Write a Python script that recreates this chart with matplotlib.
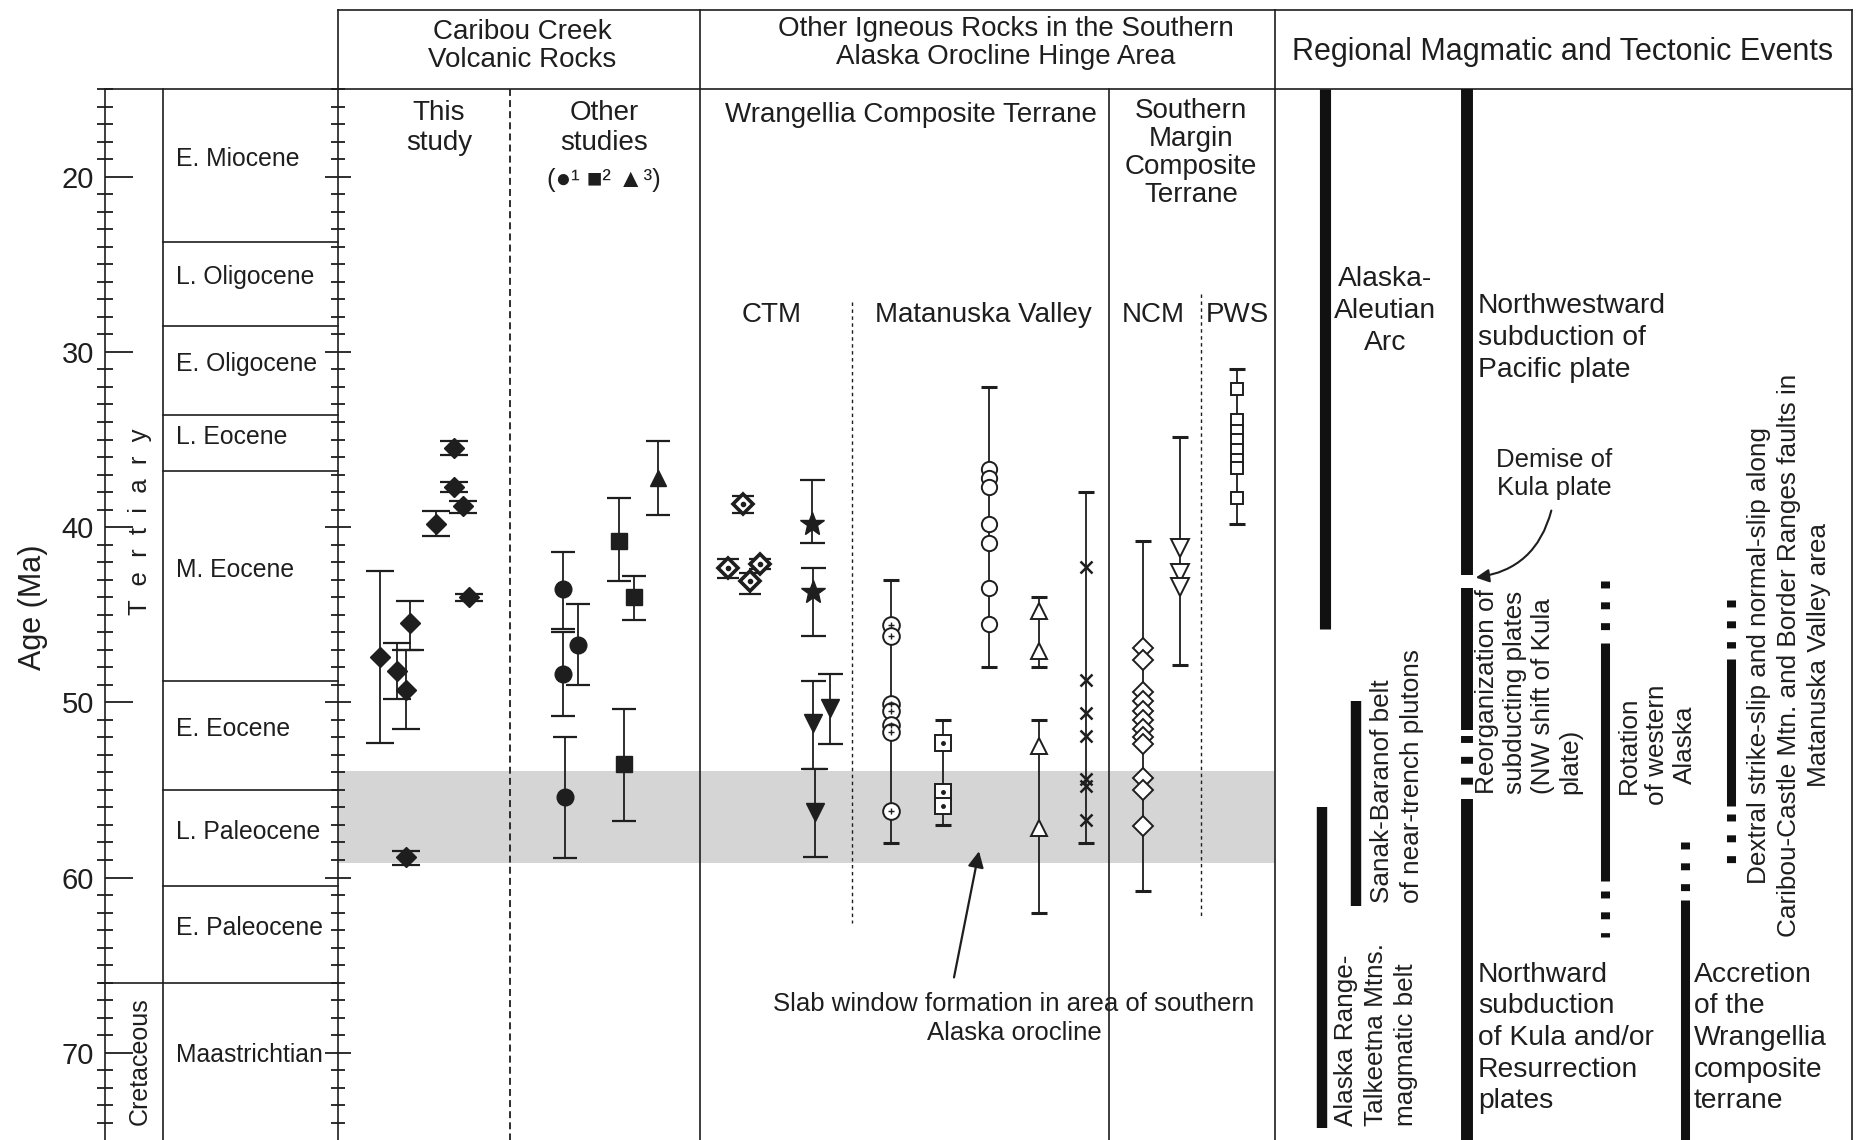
import matplotlib
matplotlib.use("Agg")
import matplotlib.pyplot as plt
from matplotlib.ticker import MultipleLocator

plt.rcParams["font.family"] = ["Liberation Sans", "DejaVu Sans"]
plt.rcParams["lines.scale_dashes"] = False

INK = "#1e1e1e"

# --- time scale (Ma) ---
epoch_names = ["E. Miocene", "L. Oligocene", "E. Oligocene", "L. Eocene", "M. Eocene",
               "E. Eocene", "L. Paleocene", "E. Paleocene", "Maastrichtian"]
epoch_bounds = [15.0, 23.7, 28.5, 33.6, 36.8, 48.8, 55.0, 60.5, 66.0, 75.0]
age_top, age_bottom = 15.0, 75.0
slab_window = (53.9, 59.15)

# --- Caribou Creek, this study (filled diamonds) ---
ts_slot = [454, 454, 463, 436, 469, 380, 410, 406, 397, 406]
ts_age = [35.5, 37.7, 38.8, 39.8, 44.0, 47.4, 45.5, 49.3, 48.2, 58.85]
ts_lo = [35.1, 37.4, 38.5, 39.1, 43.8, 42.5, 44.2, 47.0, 46.6, 58.5]
ts_hi = [35.9, 38.0, 39.2, 40.5, 44.2, 52.3, 47.0, 51.5, 49.8, 59.3]

# --- Caribou Creek, other studies ---
os_circle_slot = [563, 578, 563, 565]
os_circle_age = [43.55, 46.7, 48.4, 55.4]
os_circle_lo = [41.4, 44.4, 46.0, 52.0]
os_circle_hi = [45.8, 49.0, 50.8, 58.9]
os_square_slot = [619, 634, 624]
os_square_age = [40.8, 44.0, 53.5]
os_square_lo = [38.35, 42.8, 50.4]
os_square_hi = [43.1, 45.3, 56.75]
os_tri_slot = [658]
os_tri_age = [37.2]
os_tri_lo = [35.1]
os_tri_hi = [39.3]

# --- CTM ---
ctm_dia_slot = [743, 728, 760, 750]
ctm_dia_age = [38.7, 42.35, 42.1, 43.1]
ctm_dia_lo = [38.2, 41.8, 41.8, 42.6]
ctm_dia_hi = [39.2, 42.9, 42.4, 43.8]
ctm_star_slot = [812, 813]
ctm_star_age = [39.8, 43.7]
ctm_star_lo = [37.3, 42.35]
ctm_star_hi = [40.9, 46.2]
ctm_tri_slot = [813, 830, 815]
ctm_tri_age = [51.2, 50.3, 56.25]
ctm_tri_lo = [48.8, 48.4, 53.8]
ctm_tri_hi = [53.8, 52.4, 58.8]

# --- Matanuska Valley suites: (age range, individual ages) ---
mv_a_range = (43.0, 58.05)
mv_a_ages = [45.6, 46.2, 50.1, 50.5, 51.3, 51.7, 56.2]
mv_b_range = (51.0, 57.0)
mv_b_ages = [52.3, 55.1, 55.9]
mv_c_range = (32.0, 48.0)
mv_c_ages = [36.7, 37.2, 37.7, 39.85, 40.9, 43.5, 45.55]
mv_d_range = (44.0, 48.0)
mv_d_ages = [44.8, 47.05]
mv_e_range = (51.0, 62.0)
mv_e_ages = [52.5, 57.2]
mv_f_range = (38.0, 58.05)
mv_f_ages = [42.3, 48.7, 50.6, 51.9, 54.4, 54.8, 56.7]

# --- Southern Margin terrane ---
ncm_dia_range = (40.8, 60.75)
ncm_dia_ages = [46.9, 47.6, 49.4, 49.9, 50.5, 51.0, 51.55, 52.0, 52.4, 54.3, 55.0, 57.05]
ncm_tri_range = (34.85, 47.85)
ncm_tri_ages = [41.2, 42.6, 43.4]
pws_range = (31.0, 39.85)
pws_ages = [32.1, 33.9, 34.5, 35.0, 35.6, 36.15, 36.65, 38.35]

# --- regional events: (start, end, solid?) ---
ev_arc = [(15.0, 45.8, True)]
ev_artm = [(56.0, 74.3, True)]
ev_sanak = [(49.9, 61.6, True)]
ev_subduction = [(15.0, 42.73, True), (43.5, 51.6, True), (51.9, 54.9, False), (55.5, 75.0, True)]
ev_rotation = [(43.1, 45.9, False), (46.6, 60.2, True), (60.75, 63.4, False)]
ev_accretion = [(57.95, 60.9, False), (61.3, 75.0, True)]
ev_dextral = [(44.15, 46.9, False), (47.5, 55.9, True), (56.4, 59.2, False)]


def err_points(ax, slots, ages, lo, hi, marker, ms, cap, **kw):
    lower = [a - l for a, l in zip(ages, lo)]
    upper = [h - a for a, h in zip(ages, hi)]
    ax.errorbar(slots, ages, yerr=[lower, upper], fmt="none", ecolor=INK,
                elinewidth=1.3, capsize=cap, capthick=1.6, zorder=3)
    ax.plot(slots, ages, linestyle="none", marker=marker, ms=ms, zorder=4, **kw)


def suite(ax, slot, rng, ages, marker, ms, cap=6, inner=None, **kw):
    lo, hi = rng
    ax.errorbar([slot], [(lo + hi) / 2], yerr=[(hi - lo) / 2], fmt="none",
                ecolor=INK, elinewidth=1.3, capsize=cap, capthick=2.2, zorder=3)
    ax.plot([slot] * len(ages), ages, linestyle="none", marker=marker, ms=ms,
            zorder=4, **kw)
    if inner is not None:
        ax.plot([slot] * len(ages), ages, linestyle="none", marker=inner[0],
                ms=inner[1], color=INK, mew=1.0, zorder=5)


def event_bar(ax, slot, segments, lw):
    for start, end, solid in segments:
        if solid:
            ax.plot([slot, slot], [start, end], color="#111111", lw=lw,
                    solid_capstyle="butt", zorder=3)
        else:
            ax.plot([slot, slot], [start, end], color="#111111", lw=lw,
                    dashes=(5, 10), dash_capstyle="butt", zorder=3)


def main():
    fig = plt.figure(figsize=(18.6, 11.4), dpi=100)
    ax = fig.add_axes([0, 0, 1, 1])
    ax.set_xlim(0, 1860)
    ax.set_ylim(74.98, 9.914)
    ax.axis("off")

    # age scale with ticks on both sides of the time-scale columns
    sc = fig.add_axes([105 / 1860, 0, (338 - 105) / 1860, (1140 - 89) / 1140])
    sc.set_ylim(74.98, 14.994)
    sc.patch.set_alpha(0)
    sc.set_xticks([])
    for s in sc.spines.values():
        s.set_visible(False)
    sc.yaxis.set_major_locator(MultipleLocator(10))
    sc.yaxis.set_minor_locator(MultipleLocator(1))
    sc.tick_params(axis="y", which="major", direction="in", length=20, width=1.3,
                   color=INK, labelsize=21, labelcolor=INK, pad=8)
    sc.tick_params(axis="y", which="minor", direction="inout", length=12, width=1.3,
                   color=INK)
    sc.set_yticks([20, 30, 40, 50, 60, 70])
    tw = sc.twinx()
    tw.set_ylim(74.98, 14.994)
    tw.patch.set_alpha(0)
    for s in tw.spines.values():
        s.set_visible(False)
    tw.yaxis.set_major_locator(MultipleLocator(10))
    tw.yaxis.set_minor_locator(MultipleLocator(1))
    tw.tick_params(axis="y", which="major", direction="inout", length=19, width=1.3,
                   color=INK, labelright=False)
    tw.tick_params(axis="y", which="minor", direction="inout", length=9.5, width=1.3,
                   color=INK)

    frame = dict(color=INK, lw=1.2, zorder=2)
    # outer frame and column rules
    ax.plot([105, 1852], [age_top, age_top], **frame)
    ax.plot([338, 1852], [10.49, 10.49], **frame)
    ax.plot([105, 105], [age_top, age_bottom], **frame)
    ax.plot([163, 163], [age_top, age_bottom], **frame)
    for xv in [338, 700, 1275, 1852]:
        ax.plot([xv, xv], [10.49, age_bottom], **frame)
    ax.plot([1109, 1109], [age_top, age_bottom], **frame)
    ax.plot([510, 510], [age_top, age_bottom], color=INK, lw=1.3, dashes=(5, 3), zorder=2)
    ax.plot([852, 852], [27.15, 62.6], color=INK, lw=1.0, dashes=(2.5, 2.5), zorder=2)
    ax.plot([1201, 1201], [26.7, 62.2], color=INK, lw=1.0, dashes=(2.5, 2.5), zorder=2)

    # epochs
    for b in epoch_bounds[1:-1]:
        x0 = 100 if b == 66.0 else 163
        ax.plot([x0, 338], [b, b], **frame)
    for name, top, bot in zip(epoch_names, epoch_bounds[:-1], epoch_bounds[1:]):
        ax.text(176, (top + bot) / 2 - 0.35, name, fontsize=17.8, color=INK,
                ha="left", va="center")
    ax.text(33, 44.56, "Age (Ma)", rotation=90, fontsize=22, color=INK,
            ha="center", va="center")
    ax.text(140, 39.7, "T  e  r  t  i  a  r  y", rotation=90, fontsize=18.5, color=INK,
            ha="center", va="center")
    ax.text(140, 70.5, "Cretaceous", rotation=90, fontsize=18, color=INK,
            ha="center", va="center")

    # slab window band
    ax.fill_between([338, 1275], slab_window[0], slab_window[1], color="#d5d5d5",
                    lw=0, zorder=1)

    # headers
    hd = dict(color=INK, ha="center", va="center", linespacing=1.1)
    ax.text(522, 12.54, "Caribou Creek\nVolcanic Rocks", fontsize=20, **hd)
    ax.text(1006, 12.37, "Other Igneous Rocks in the Southern\nAlaska Orocline Hinge Area",
            fontsize=20, **hd)
    ax.text(1563, 12.88, "Regional Magmatic and Tectonic Events", fontsize=22, **hd)
    sub = dict(hd, linespacing=1.2)
    ax.text(439, 17.2, "This\nstudy", fontsize=20, **sub)
    ax.text(604, 17.2, "Other\nstudies", fontsize=20, **sub)
    ax.text(604, 20.2, "(\u25cf\u00b9 \u25a0\u00b2 \u25b2\u00b3)", fontsize=18.5, **hd)
    ax.text(911, 16.48, "Wrangellia Composite Terrane", fontsize=20, **hd)
    ax.text(1191, 18.65, "Southern\nMargin\nComposite\nTerrane", fontsize=20, **hd)
    for label, xv in [("CTM", 772), ("Matanuska Valley", 983), ("NCM", 1153), ("PWS", 1237)]:
        ax.text(xv, 27.9, label, fontsize=20, **hd)

    # Caribou Creek samples
    err_points(ax, ts_slot, ts_age, ts_lo, ts_hi, "D", 10, 10, color=INK)
    err_points(ax, os_circle_slot, os_circle_age, os_circle_lo, os_circle_hi, "o", 12, 8.5,
               color=INK)
    err_points(ax, os_square_slot, os_square_age, os_square_lo, os_square_hi, "s", 11, 8.5,
               color=INK)
    err_points(ax, os_tri_slot, os_tri_age, os_tri_lo, os_tri_hi, "^", 12, 8.5, color=INK)

    # CTM
    err_points(ax, ctm_dia_slot, ctm_dia_age, ctm_dia_lo, ctm_dia_hi, "D", 10, 8,
               mfc="white", mec=INK, mew=2.6)
    ax.plot(ctm_dia_slot, ctm_dia_age, linestyle="none", marker="o", ms=3, color=INK, zorder=5)
    err_points(ax, ctm_star_slot, ctm_star_age, ctm_star_lo, ctm_star_hi, "*", 18, 9,
               color=INK)
    err_points(ax, ctm_tri_slot, ctm_tri_age, ctm_tri_lo, ctm_tri_hi, "v", 13, 9, color=INK)

    # Matanuska Valley
    open_kw = dict(mfc="white", mec=INK, mew=1.4)
    suite(ax, 891, mv_a_range, mv_a_ages, "o", 12, inner=("+", 5), **open_kw)
    suite(ax, 943, mv_b_range, mv_b_ages, "s", 12, inner=(".", 5), **open_kw)
    suite(ax, 989, mv_c_range, mv_c_ages, "o", 11, **open_kw)
    suite(ax, 1039, mv_d_range, mv_d_ages, "^", 12, **open_kw)
    suite(ax, 1039, mv_e_range, mv_e_ages, "^", 12, **open_kw)
    suite(ax, 1086, mv_f_range, mv_f_ages, "x", 9, color=INK, mew=1.8)

    # NCM and PWS
    suite(ax, 1143, ncm_dia_range, ncm_dia_ages, "D", 10, **open_kw)
    suite(ax, 1180, ncm_tri_range, ncm_tri_ages, "v", 13, **open_kw)
    suite(ax, 1237, pws_range, pws_ages, "s", 9, **open_kw)

    ax.text(1014, 68.05, "Slab window formation in area of southern\nAlaska orocline",
            fontsize=18.5, color=INK, ha="center", va="center", linespacing=1.26)
    ax.annotate("", xy=(979, 58.5), xytext=(954, 65.7),
                arrowprops=dict(arrowstyle="-|>", color=INK, lw=1.6, mutation_scale=24,
                                shrinkA=0, shrinkB=0))

    # regional magmatic and tectonic events
    event_bar(ax, 1325, ev_arc, 8)
    event_bar(ax, 1322, ev_artm, 7.5)
    event_bar(ax, 1356, ev_sanak, 7.5)
    event_bar(ax, 1467, ev_subduction, 8.6)
    event_bar(ax, 1605, ev_rotation, 6.5)
    event_bar(ax, 1685, ev_accretion, 6.5)
    event_bar(ax, 1731, ev_dextral, 6.5)

    ev = dict(color=INK, fontsize=20.3, linespacing=1.28)
    ax.text(1385, 27.67, "Alaska-\nAleutian\nArc", ha="center", va="center",
            multialignment="center", **ev)
    ax.text(1478, 29.2, "Northwestward\nsubduction of\nPacific plate", ha="left",
            va="center", **ev)
    ax.text(1554, 36.97, "Demise of\nKula plate", ha="center", va="center",
            color=INK, fontsize=18.5, linespacing=1.25)
    ax.annotate("", xy=(1473, 42.9), xytext=(1552, 38.9),
                arrowprops=dict(arrowstyle="-|>", color=INK, lw=1.5, mutation_scale=20,
                                connectionstyle="arc3,rad=-0.35"))
    ax.text(1478, 69.16, "Northward\nsubduction\nof Kula and/or\nResurrection\nplates",
            ha="left", va="center", **ev)
    ax.text(1694, 69.16, "Accretion\nof the\nWrangellia\ncomposite\nterrane",
            ha="left", va="center", **ev)

    rot = dict(color=INK, fontsize=18.8, rotation=90)
    ax.text(1376, 74.19, "Alaska Range-\nTalkeetna Mtns.\nmagmatic belt", ha="center",
            va="bottom", multialignment="left", linespacing=1.32, **rot)
    ax.text(1397, 61.45, "Sanak-Baranof belt\nof near-trench plutons", ha="center",
            va="bottom", multialignment="left", linespacing=1.34, **rot)
    ax.text(1529, 55.24, "Reorganization of\nsubducting plates\n(NW shift of Kula\nplate)",
            ha="center", va="bottom", multialignment="left", linespacing=1.2, **rot)
    ax.text(1657, 52.44, "Rotation\nof western\nAlaska", ha="center", va="center",
            multialignment="center", linespacing=1.2, **rot)
    ax.text(1789, 47.3, "Dextral strike-slip and normal-slip along\n"
            "Caribou-Castle Mtn. and Border Ranges faults in\nMatanuska Valley area",
            ha="center", va="center", multialignment="center", linespacing=1.33, **rot)

    fig.savefig("out.png", dpi=100)
    plt.close(fig)


if __name__ == "__main__":
    main()
